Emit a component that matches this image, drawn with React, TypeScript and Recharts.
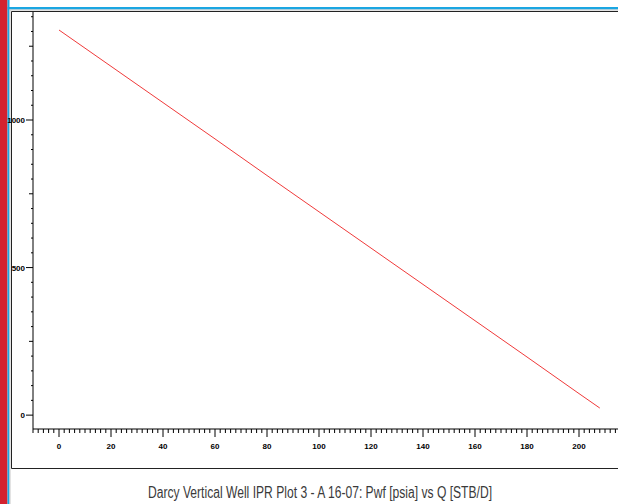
import React from "react";
import { LineChart, Line, XAxis, YAxis } from "recharts";

// Inflow performance: flowing bottom-hole pressure vs rate
const qValues = [0, 20, 40, 60, 80, 100, 120, 140, 160, 180, 200, 208];
const pwfValues = [1305, 1182, 1059, 936, 812, 689, 566, 443, 320, 197, 73, 24];

// Labelled tick values
const xMajorTicks = [0, 20, 40, 60, 80, 100, 120, 140, 160, 180, 200];
const yMajorTicks = [0, 500, 1000];
const yMidTicks = [250, 750, 1250];

const chartTitle = "Darcy Vertical Well IPR Plot 3 - A 16-07: Pwf [psia] vs Q [STB/D]";

const data = qValues.map((q, i) => ({ q, pwf: pwfValues[i] }));

// Minor tick positions (every 2 STB/D, every 50 psia)
const xTicks: number[] = [];
for (let v = -10; v <= 214; v += 2) xTicks.push(v);
const yTicks: number[] = [];
for (let v = 0; v <= 1350; v += 50) yTicks.push(v);

const tickFont = "'Liberation Sans Narrow', 'Arial Narrow', 'Liberation Sans', sans-serif";

const XTick = (props: any) => {
  const { x, y, payload } = props;
  const v = payload.value;
  const major = xMajorTicks.includes(v);
  return (
    <g>
      <line x1={x} x2={x} y1={y} y2={y + (major ? 8 : 4)} stroke="#000" strokeWidth={1} />
      {major && (
        <text
          x={x}
          y={y + 20}
          textAnchor="middle"
          fontFamily={tickFont}
          fontWeight="bold"
          fontSize={8}
          fill="#000"
        >
          {v}
        </text>
      )}
    </g>
  );
};

const YTick = (props: any) => {
  const { x, y, payload } = props;
  const v = payload.value;
  const major = yMajorTicks.includes(v);
  const mid = yMidTicks.includes(v);
  const len = major ? 7 : mid ? 4 : 2;
  return (
    <g>
      <line x1={x - len} x2={x} y1={y} y2={y} stroke="#000" strokeWidth={1} />
      {major && (
        <text
          x={x - 8}
          y={y + 3}
          textAnchor="end"
          fontFamily={tickFont}
          fontWeight="bold"
          fontSize={8}
          fill="#000"
        >
          {v}
        </text>
      )}
    </g>
  );
};

export default function App() {
  return (
    <div style={{ position: "absolute", left: 0, top: 0, width: 618, height: 504, background: "#fff", overflow: "hidden" }}>
      <svg width={618} height={504} style={{ position: "absolute", left: 0, top: 0 }}>
        {/* window chrome */}
        <rect x={0} y={0} width={7.5} height={504} fill="#d3222f" />
        <rect x={7.5} y={0} width={2} height={504} fill="#1aa6e2" />
        <rect x={7.5} y={7} width={611} height={2.5} fill="#1aa6e2" />
        <rect x={9.5} y={9.5} width={609} height={1} fill="#c8c8c8" />
        <rect x={9.5} y={9.5} width={1} height={495} fill="#c8c8c8" />
        {/* plot frame */}
        <line x1={11.5} x2={618} y1={11.5} y2={11.5} stroke="#222" strokeWidth={1} />
        <line x1={11.5} x2={11.5} y1={11.5} y2={468.5} stroke="#222" strokeWidth={1} />
        <line x1={11.5} x2={618} y1={468.5} y2={468.5} stroke="#222" strokeWidth={1} />
        <text
          x={320}
          y={498}
          textAnchor="middle"
          fontFamily={tickFont}
          fontSize={16}
          fill="#3a3a3a"
          textLength={344}
          lengthAdjust="spacingAndGlyphs"
        >
          {chartTitle}
        </text>
      </svg>
      <div style={{ position: "absolute", left: 0, top: 0 }}>
        <LineChart width={618} height={504} data={data} margin={{ top: 12, right: 0, bottom: 0, left: 0 }}>
          <XAxis
            dataKey="q"
            type="number"
            domain={[-10, 215]}
            ticks={xTicks}
            interval={0}
            allowDataOverflow
            height={75}
            tickSize={0}
            tickMargin={0}
            tickLine={false}
            axisLine={{ stroke: "#000", strokeWidth: 1 }}
            tick={<XTick />}
          />
          <YAxis
            type="number"
            domain={[-47, 1366]}
            ticks={yTicks}
            interval={0}
            allowDataOverflow
            width={33}
            tickSize={0}
            tickMargin={0}
            tickLine={false}
            axisLine={{ stroke: "#000", strokeWidth: 1 }}
            tick={<YTick />}
          />
          <Line
            type="linear"
            dataKey="pwf"
            stroke="#f03a3a"
            strokeWidth={1}
            dot={false}
            isAnimationActive={false}
          />
        </LineChart>
      </div>
    </div>
  );
}
